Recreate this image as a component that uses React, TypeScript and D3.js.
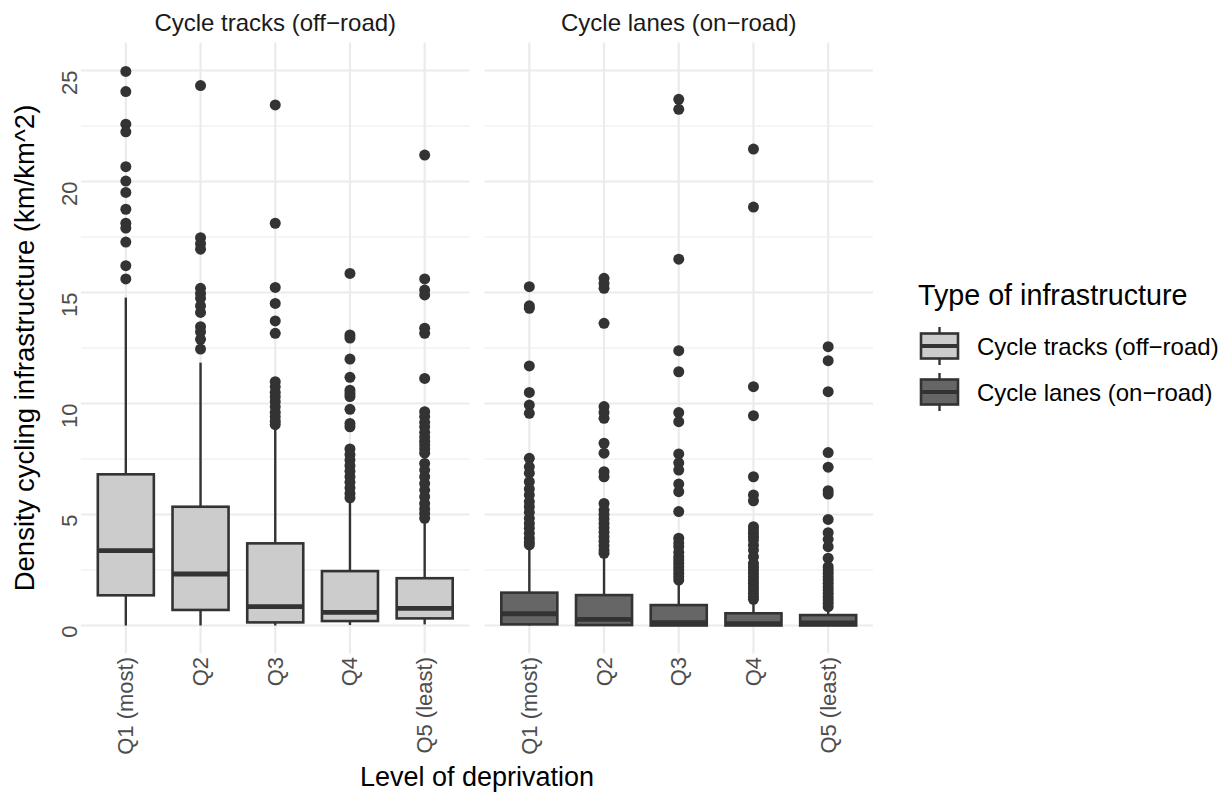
import React from 'react';
import * as d3 from 'd3';

const quintiles = ['Q1 (most)', 'Q2', 'Q3', 'Q4', 'Q5 (least)'];
const panels = ['Cycle tracks (off\u2212road)', 'Cycle lanes (on\u2212road)'];
const fills = ['#CCCCCC', '#666666'];
const yTicks = [0, 5, 10, 15, 20, 25];
const yMinor = [2.5, 7.5, 12.5, 17.5, 22.5];

// [lower whisker, q1, median, q3, upper whisker] per quintile
const trackStats = [
  [0, 1.36, 3.37, 6.81, 14.77],
  [0, 0.7, 2.32, 5.35, 11.84],
  [0, 0.14, 0.85, 3.7, 8.96],
  [0.02, 0.2, 0.59, 2.45, 5.65],
  [0.05, 0.32, 0.77, 2.13, 4.68],
];
const laneStats = [
  [0, 0.05, 0.53, 1.48, 3.4],
  [0, 0.02, 0.28, 1.37, 3.1],
  [0, 0, 0.13, 0.92, 1.97],
  [0, 0, 0.08, 0.55, 1.07],
  [0, 0, 0.12, 0.47, 0.62],
];

const trackOutliers = [
  [24.96, 24.05, 22.58, 22.24, 20.67, 20.02, 19.51, 18.75, 18.12, 17.9, 17.27, 16.21, 15.61],
  [24.32, 17.47, 17.2, 16.95, 15.19, 14.96, 14.74, 14.4, 14.1, 13.46, 13.23, 12.89, 12.45],
  [23.45, 18.12, 15.23, 14.51, 13.72, 13.16, 10.98, 10.75, 10.5, 10.3, 10.08, 9.85, 9.6, 9.4, 9.2, 9.05],
  [15.86, 13.09, 12.95, 12.0, 11.18, 10.6, 10.45, 10.31, 9.74, 9.1, 8.95, 7.95, 7.7, 7.45, 7.2, 6.95, 6.7, 6.45, 6.2, 5.95, 5.75],
  [21.19, 15.61, 15.11, 14.89, 13.39, 13.16, 11.13, 9.63, 9.41, 9.15, 8.95, 8.7, 8.5, 8.3, 8.13, 7.95, 7.76, 7.3, 7.0, 6.7, 6.4, 6.1, 5.8, 5.5, 5.25, 5.05, 4.83],
];
const laneOutliers = [
  [15.26, 14.4, 14.29, 11.69, 10.5, 9.93, 9.56, 7.53, 7.15, 6.86, 6.48, 6.15, 5.88, 5.58, 5.35, 5.1, 4.83, 4.6, 4.38, 4.15, 3.93, 3.75, 3.63],
  [15.64, 15.41, 15.19, 13.61, 9.86, 9.6, 9.33, 8.21, 7.76, 6.93, 6.7, 5.5, 5.2, 5.0, 4.8, 4.6, 4.4, 4.2, 4.0, 3.8, 3.6, 3.4, 3.25],
  [23.7, 23.25, 16.5, 12.38, 11.43, 9.59, 9.18, 7.73, 7.33, 7.0, 6.37, 6.03, 5.13, 3.93, 3.72, 3.55, 3.3, 3.1, 2.95, 2.8, 2.65, 2.5, 2.35, 2.2, 2.05],
  [21.46, 18.85, 10.76, 9.45, 6.7, 5.88, 5.62, 4.45, 4.3, 4.15, 4.0, 3.85, 3.62, 3.4, 3.1, 2.8, 2.65, 2.5, 2.35, 2.2, 2.05, 1.9, 1.75, 1.6, 1.45, 1.3, 1.18],
  [12.56, 11.93, 10.53, 7.79, 7.13, 6.07, 5.92, 4.78, 4.18, 3.88, 3.55, 3.03, 2.65, 2.5, 2.35, 2.2, 2.05, 1.9, 1.75, 1.6, 1.45, 1.3, 1.15, 1.0, 0.85],
];

const W = 1232, H = 795;
const font = '"Liberation Sans", Arial, sans-serif';
const panelX = [[81, 469.5], [484.5, 873]];
const top = 42.75, bottom = 653.25;

const y = d3.scaleLinear().domain([-1.25, 26.25]).range([bottom, top]);

const App = () => {
  const statsAll = [trackStats, laneStats];
  const outAll = [trackOutliers, laneOutliers];

  return (
    <svg width={W} height={H} style={{ position: 'absolute', left: 0, top: 0, background: '#fff' }} fontFamily={font}>
      {panels.map((title, p) => {
        const [x0, x1] = panelX[p];
        const x = d3.scalePoint<string>().domain(quintiles).range([x0, x1]).padding(0.6);
        const bw = x.step() * 0.75;
        return (
          <g key={p}>
            {/* grid */}
            {yMinor.map(v => (
              <line key={'mn' + v} x1={x0} x2={x1} y1={y(v)} y2={y(v)} stroke="#EBEBEB" strokeWidth={1.2} />
            ))}
            {yTicks.map(v => (
              <line key={'mj' + v} x1={x0} x2={x1} y1={y(v)} y2={y(v)} stroke="#EBEBEB" strokeWidth={2.2} />
            ))}
            {quintiles.map(q => (
              <line key={'v' + q} x1={x(q)} x2={x(q)} y1={top} y2={bottom} stroke="#EBEBEB" strokeWidth={2.2} />
            ))}
            {/* strip */}
            <text x={(x0 + x1) / 2} y={31} textAnchor="middle" fontSize={24} fill="#1A1A1A">{title}</text>
            {/* boxes */}
            {quintiles.map((q, i) => {
              const [lo, q1, med, q3, hi] = statsAll[p][i];
              const cx = x(q) as number;
              return (
                <g key={q}>
                  <line x1={cx} x2={cx} y1={y(q3)} y2={y(hi)} stroke="#333333" strokeWidth={2.4} />
                  <line x1={cx} x2={cx} y1={y(q1)} y2={y(lo)} stroke="#333333" strokeWidth={2.4} />
                  <rect x={cx - bw / 2} y={y(q3)} width={bw} height={Math.max(0, y(q1) - y(q3))}
                    fill={fills[p]} stroke="#333333" strokeWidth={2.6} />
                  <line x1={cx - bw / 2} x2={cx + bw / 2} y1={y(med)} y2={y(med)} stroke="#333333" strokeWidth={4.8} />
                  {outAll[p][i].map((v, k) => (
                    <circle key={k} cx={cx} cy={y(v)} r={5.5} fill="#333333" />
                  ))}
                </g>
              );
            })}
            {/* x tick labels */}
            {quintiles.map(q => (
              <text key={'xl' + q} transform={`translate(${x(q)},657) rotate(-90)`} textAnchor="end"
                dominantBaseline="central" fontSize={22} fill="#4D4D4D">{q}</text>
            ))}
          </g>
        );
      })}
      {/* y tick labels */}
      {yTicks.map(v => (
        <text key={'yl' + v} transform={`translate(77,${y(v)}) rotate(-90)`} textAnchor="end"
          fontSize={22} fill="#4D4D4D">{v}</text>
      ))}
      {/* axis titles */}
      <text x={(panelX[0][0] + panelX[1][1]) / 2} y={786} textAnchor="middle" fontSize={27} fill="#000">Level of deprivation</text>
      <text transform={`translate(34,${(top + bottom) / 2}) rotate(-90)`} textAnchor="middle" fontSize={27.5} fill="#000">
        Density cycling infrastructure (km/km^2)
      </text>
      {/* legend */}
      <text x={918} y={305} fontSize={28.7} fill="#000">Type of infrastructure</text>
      {panels.map((lab, i) => {
        const cy = 346 + i * 46;
        const kx = 939.5;
        return (
          <g key={'lg' + i}>
            <line x1={kx} x2={kx} y1={cy - 19} y2={cy + 19} stroke="#333333" strokeWidth={2.4} />
            <rect x={kx - 18.5} y={cy - 12.5} width={37} height={25} fill={fills[i]} stroke="#333333" strokeWidth={2.6} />
            <line x1={kx - 18.5} x2={kx + 18.5} y1={cy} y2={cy} stroke="#333333" strokeWidth={4} />
            <text x={977} y={cy} dominantBaseline="central" fontSize={24} fill="#000">{lab}</text>
          </g>
        );
      })}
    </svg>
  );
};

export default App;
